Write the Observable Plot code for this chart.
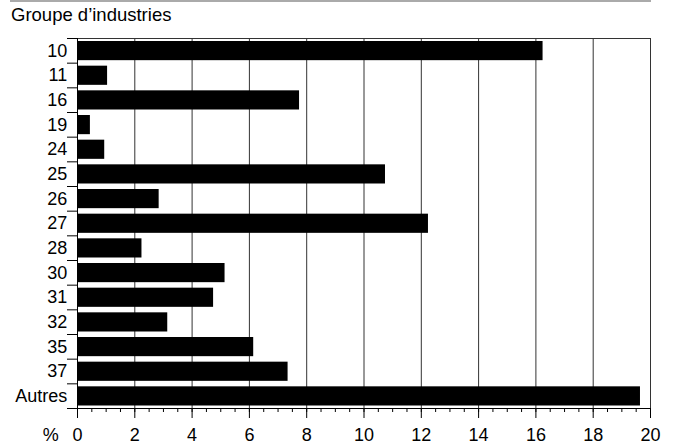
<!DOCTYPE html>
<html>
<head>
<meta charset="utf-8">
<script src="https://cdn.jsdelivr.net/npm/d3@7"></script>
<script src="https://cdn.jsdelivr.net/npm/@observablehq/plot@0.6"></script>
<style>
  html, body { margin: 0; padding: 0; background: #fff; }
  #wrap { width: 681px; font-family: "Liberation Sans", Arial, Helvetica, sans-serif; }
  #head { position: relative; width: 681px; height: 30px; }
  #topline { position: absolute; left: 10px; top: 0; width: 641px; height: 0; border-top: 2px solid #aaa; }
  #title { position: absolute; left: 11px; top: 6.3px; font-size: 18.5px; line-height: 18.5px; color: #000; white-space: nowrap; }
  svg { display: block; }
</style>
</head>
<body>
<div id="wrap">
  <div id="head"><div id="topline"></div><div id="title">Groupe d’industries</div></div>
  <div id="chart"></div>
</div>
<script>
const categories = ["10", "11", "16", "19", "24", "25", "26", "27", "28", "30", "31", "32", "35", "37", "Autres"];
const values = [16.25, 1.05, 7.75, 0.45, 0.95, 10.75, 2.85, 12.25, 2.25, 5.15, 4.75, 3.15, 6.15, 7.35, 19.65];
const xTicks = [0, 2, 4, 6, 8, 10, 12, 14, 16, 18, 20];
const gridLines = [2, 4, 6, 8, 10, 12, 14, 16, 18];
const minorTicks = d3.range(0, 20.001, 0.5);
const unitLabel = "%";

const data = categories.map((c, i) => ({cat: c, idx: i, value: values[i]}));
const bandEdges = d3.range(0, categories.length + 1);
const bandCenters = categories.map((c, i) => i + 0.5);

const chart = Plot.plot({
  width: 681,
  height: 416,
  marginLeft: 77,
  marginRight: 31,
  marginTop: 8,
  marginBottom: 38,
  style: {fontFamily: '"Liberation Sans", Arial, Helvetica, sans-serif', fontSize: "18px", color: "#000", background: "#fff"},
  x: {domain: [0, 20]},
  y: {domain: [0, categories.length], reverse: true},
  marks: [
    Plot.ruleX(gridLines, {stroke: "#333", strokeWidth: 1}),
    Plot.rectX(data, {x1: 0, x2: "value", y1: "idx", y2: d => d.idx + 1, fill: "#000", insetTop: 3, insetBottom: 2.5}),
    Plot.frame({stroke: "#333"}),
    Plot.ruleX([0], {stroke: "#000"}),
    Plot.ruleY([categories.length], {stroke: "#000"}),
    Plot.axisX({ticks: minorTicks, tickSize: 4, tickFormat: () => "", label: null}),
    Plot.axisX({ticks: xTicks, tickSize: 10, tickPadding: 9.9, fontSize: 18, label: null}),
    Plot.axisY({ticks: bandEdges, tickSize: 10, tickFormat: () => "", label: null}),
    Plot.axisY({ticks: bandCenters, tickSize: 0, tickPadding: 10.3, fontSize: 18, tickFormat: d => categories[Math.floor(d)], label: null}),
    Plot.text([unitLabel], {frameAnchor: "bottom-left", textAnchor: "end", lineAnchor: "top", dx: -18.7, dy: 19.9, fontSize: 18})
  ]
});
document.getElementById("chart").appendChild(chart);
</script>
</body>
</html>
